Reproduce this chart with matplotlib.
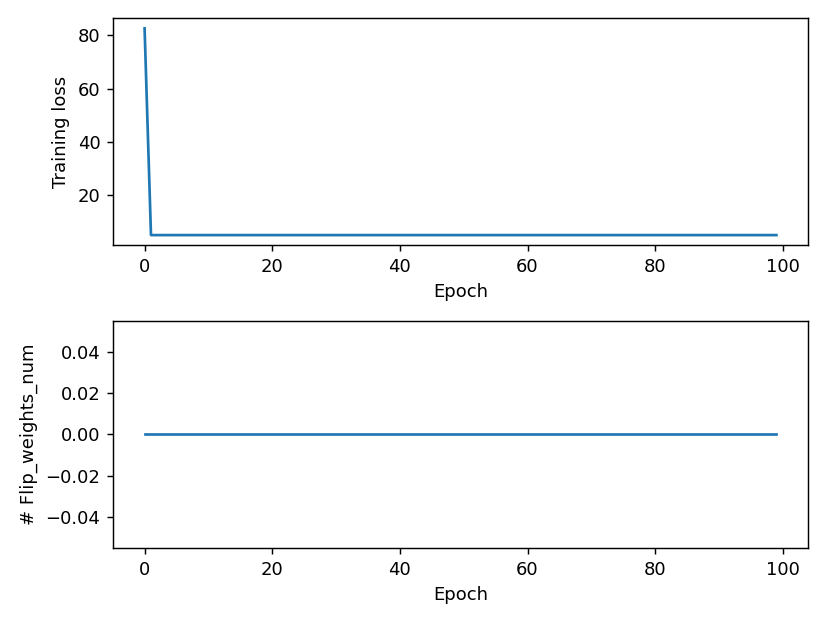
import matplotlib
matplotlib.use("Agg")
import matplotlib.pyplot as plt

epochs = list(range(100))
training_loss = [82.6] + [5.0] * 99
flip_weights_num = [0] * 100

fig, (ax1, ax2) = plt.subplots(2, 1, figsize=(830 / 130, 623 / 130), dpi=130)

ax1.plot(epochs, training_loss)
ax1.set_xlabel("Epoch")
ax1.set_ylabel("Training loss")

ax2.plot(epochs, flip_weights_num)
ax2.set_xlabel("Epoch")
ax2.set_ylabel("# Flip_weights_num")

fig.subplots_adjust(left=113 / 830, right=808 / 830, top=1 - 18 / 623,
                    bottom=1 - 548 / 623, hspace=75 / 227)
fig.savefig("out.png", dpi=130)
